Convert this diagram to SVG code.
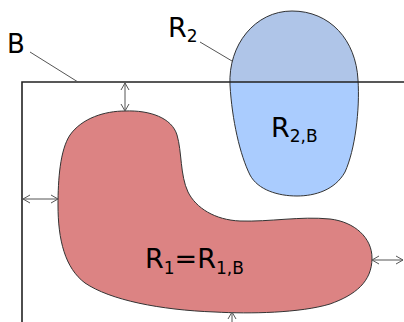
<svg xmlns="http://www.w3.org/2000/svg" width="404" height="322" viewBox="0 0 404 322">
<style>
.lbl{font-family:"DejaVu Sans","Noto Sans",sans-serif;fill:#000;font-size:27px}
.sub{font-size:17px}
.blob{stroke:#333;stroke-width:1}
.frame{fill:none;stroke:#222;stroke-width:1.6}
.arr{fill:none;stroke:#555;stroke-width:1;marker-start:url(#h);marker-end:url(#h)}
.lead{fill:none;stroke:#555;stroke-width:1}
</style>
<defs>
<marker id="h" viewBox="0 0 10 10" refX="10" refY="5" markerWidth="10" markerHeight="10" markerUnits="userSpaceOnUse" orient="auto-start-reverse">
<path d="M3,1 L10,5 L3,9" fill="none" stroke="#555" stroke-width="1"/>
</marker>
<clipPath id="above"><rect x="0" y="0" width="404" height="82"/></clipPath>
<path id="r2shape" d="M292,11 C330,11 356,40 358,80 C360,110 355,150 345,172 C335,190 315,196 297,196 C278,196 258,190 250,175 C240,155 232,120 230,85 C228,45 255,11 292,11 Z"/>
</defs>
<rect width="404" height="322" fill="#fff"/>
<g id="R1">
<path class="blob" fill="#dc8383" d="M125,111 C150,110 172,118 177,135 C182,152 180,175 188,192 C196,208 215,220 240,221 C270,222 300,216 330,219 C355,222 372,238 372,258 C372,282 355,295 330,304 C300,313 250,314 215,312 C160,310 110,300 85,283 C65,268 58,240 58,205 C58,180 60,150 70,135 C82,118 105,111 125,111 Z"/>
<text class="lbl" x="145" y="268">R<tspan class="sub" dy="6">1</tspan><tspan dy="-6">=R</tspan><tspan class="sub" dy="6">1,B</tspan></text>
</g>
<g id="R2">
<use href="#r2shape" fill="#aaccfe"/>
<use href="#r2shape" fill="#afc5e8" clip-path="url(#above)"/>
<use href="#r2shape" fill="none" stroke="#333" stroke-width="1"/>
<text class="lbl" x="271" y="137">R<tspan class="sub" dy="5">2,B</tspan></text>
<text class="lbl" x="168" y="37">R<tspan class="sub" dy="5">2</tspan></text>
</g>
<g id="B">
<path class="frame" d="M404,82 H22 V322"/>
<text class="lbl" x="7" y="53" style="font-size:26px">B</text>
</g>
<g id="connectors">
<line class="lead" x1="30" y1="52" x2="78" y2="82"/>
<line class="lead" x1="200" y1="42" x2="232" y2="61"/>
<line class="arr" x1="125" y1="83" x2="125" y2="111"/>
<line class="arr" x1="23" y1="199" x2="58" y2="199"/>
<line class="arr" x1="372" y1="260" x2="403" y2="260"/>
<line class="arr" x1="232" y1="312" x2="232" y2="340"/>
</g>
</svg>
